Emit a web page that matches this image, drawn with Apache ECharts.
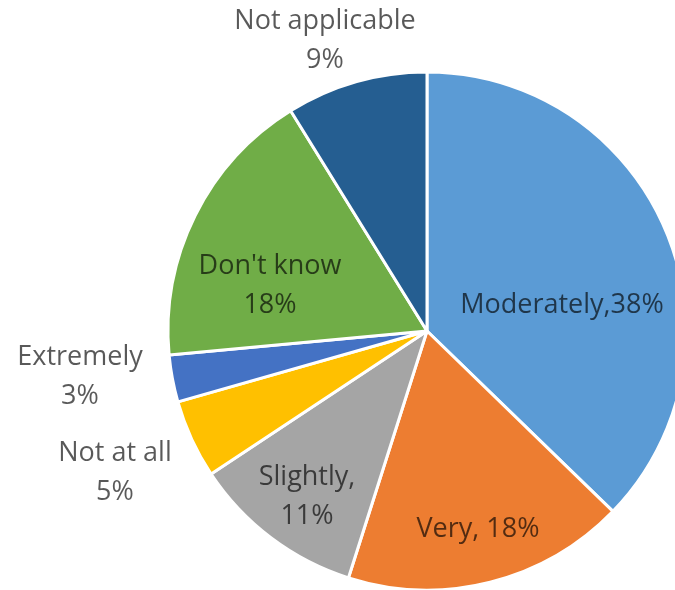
<!DOCTYPE html>
<html>
<head>
<meta charset="utf-8">
<script src="https://cdn.jsdelivr.net/npm/echarts@6/dist/echarts.min.js"></script>
<style>
  html, body { margin: 0; padding: 0; background: #ffffff; }
  #chart { width: 675px; height: 590px; }
</style>
</head>
<body>
<div id="chart"></div>
<script>
// Survey answers, clockwise from 12 o'clock
const categories = ['Moderately', 'Very', 'Slightly', 'Not at all', 'Extremely', "Don't know", 'Not applicable'];
const percents = [38, 18, 11, 5, 3, 18, 9];

// Label text templates ({v} is replaced by the value)
const labelTemplates = [
  'Moderately,{v}%',
  'Very, {v}%',
  'Slightly,\n{v}%',
  'Not at all\n{v}%',
  'Extremely\n{v}%',
  "Don't know\n{v}%",
  'Not applicable\n{v}%'
];

// Slice colours
const sliceColors = ['#5B9BD5', '#ED7D31', '#A5A5A5', '#FFC000', '#4472C4', '#70AD47', '#255E91'];

// Label anchor points (centre of each text block)
const labelAnchors = [
  [562, 305],
  [478, 529],
  [307, 497],
  [115, 473],
  [80, 377],
  [270, 286],
  [325, 41]
];

const chart = echarts.init(document.getElementById('chart'), null, { renderer: 'canvas' });

chart.setOption({
  animation: false,
  backgroundColor: '#ffffff',
  series: [{
    type: 'pie',
    center: [427, 331],
    radius: 259,
    startAngle: 90,
    clockwise: true,
    avoidLabelOverlap: false,
    data: categories.map((name, i) => ({
      name: name,
      value: percents[i],
      itemStyle: { color: sliceColors[i] }
    })),
    itemStyle: { borderColor: '#ffffff', borderWidth: 3 },
    label: {
      show: true,
      position: 'inside',
      formatter: p => labelTemplates[p.dataIndex].replace('{v}', p.value),
      color: 'rgba(0,0,0,0.65)',
      fontFamily: '"Open Sans", "Noto Sans", sans-serif',
      fontSize: 27,
      lineHeight: 39,
      align: 'center'
    },
    labelLine: { show: false },
    labelLayout: p => ({
      x: labelAnchors[p.dataIndex][0],
      y: labelAnchors[p.dataIndex][1],
      align: 'center',
      verticalAlign: 'middle'
    })
  }]
});
</script>
</body>
</html>
